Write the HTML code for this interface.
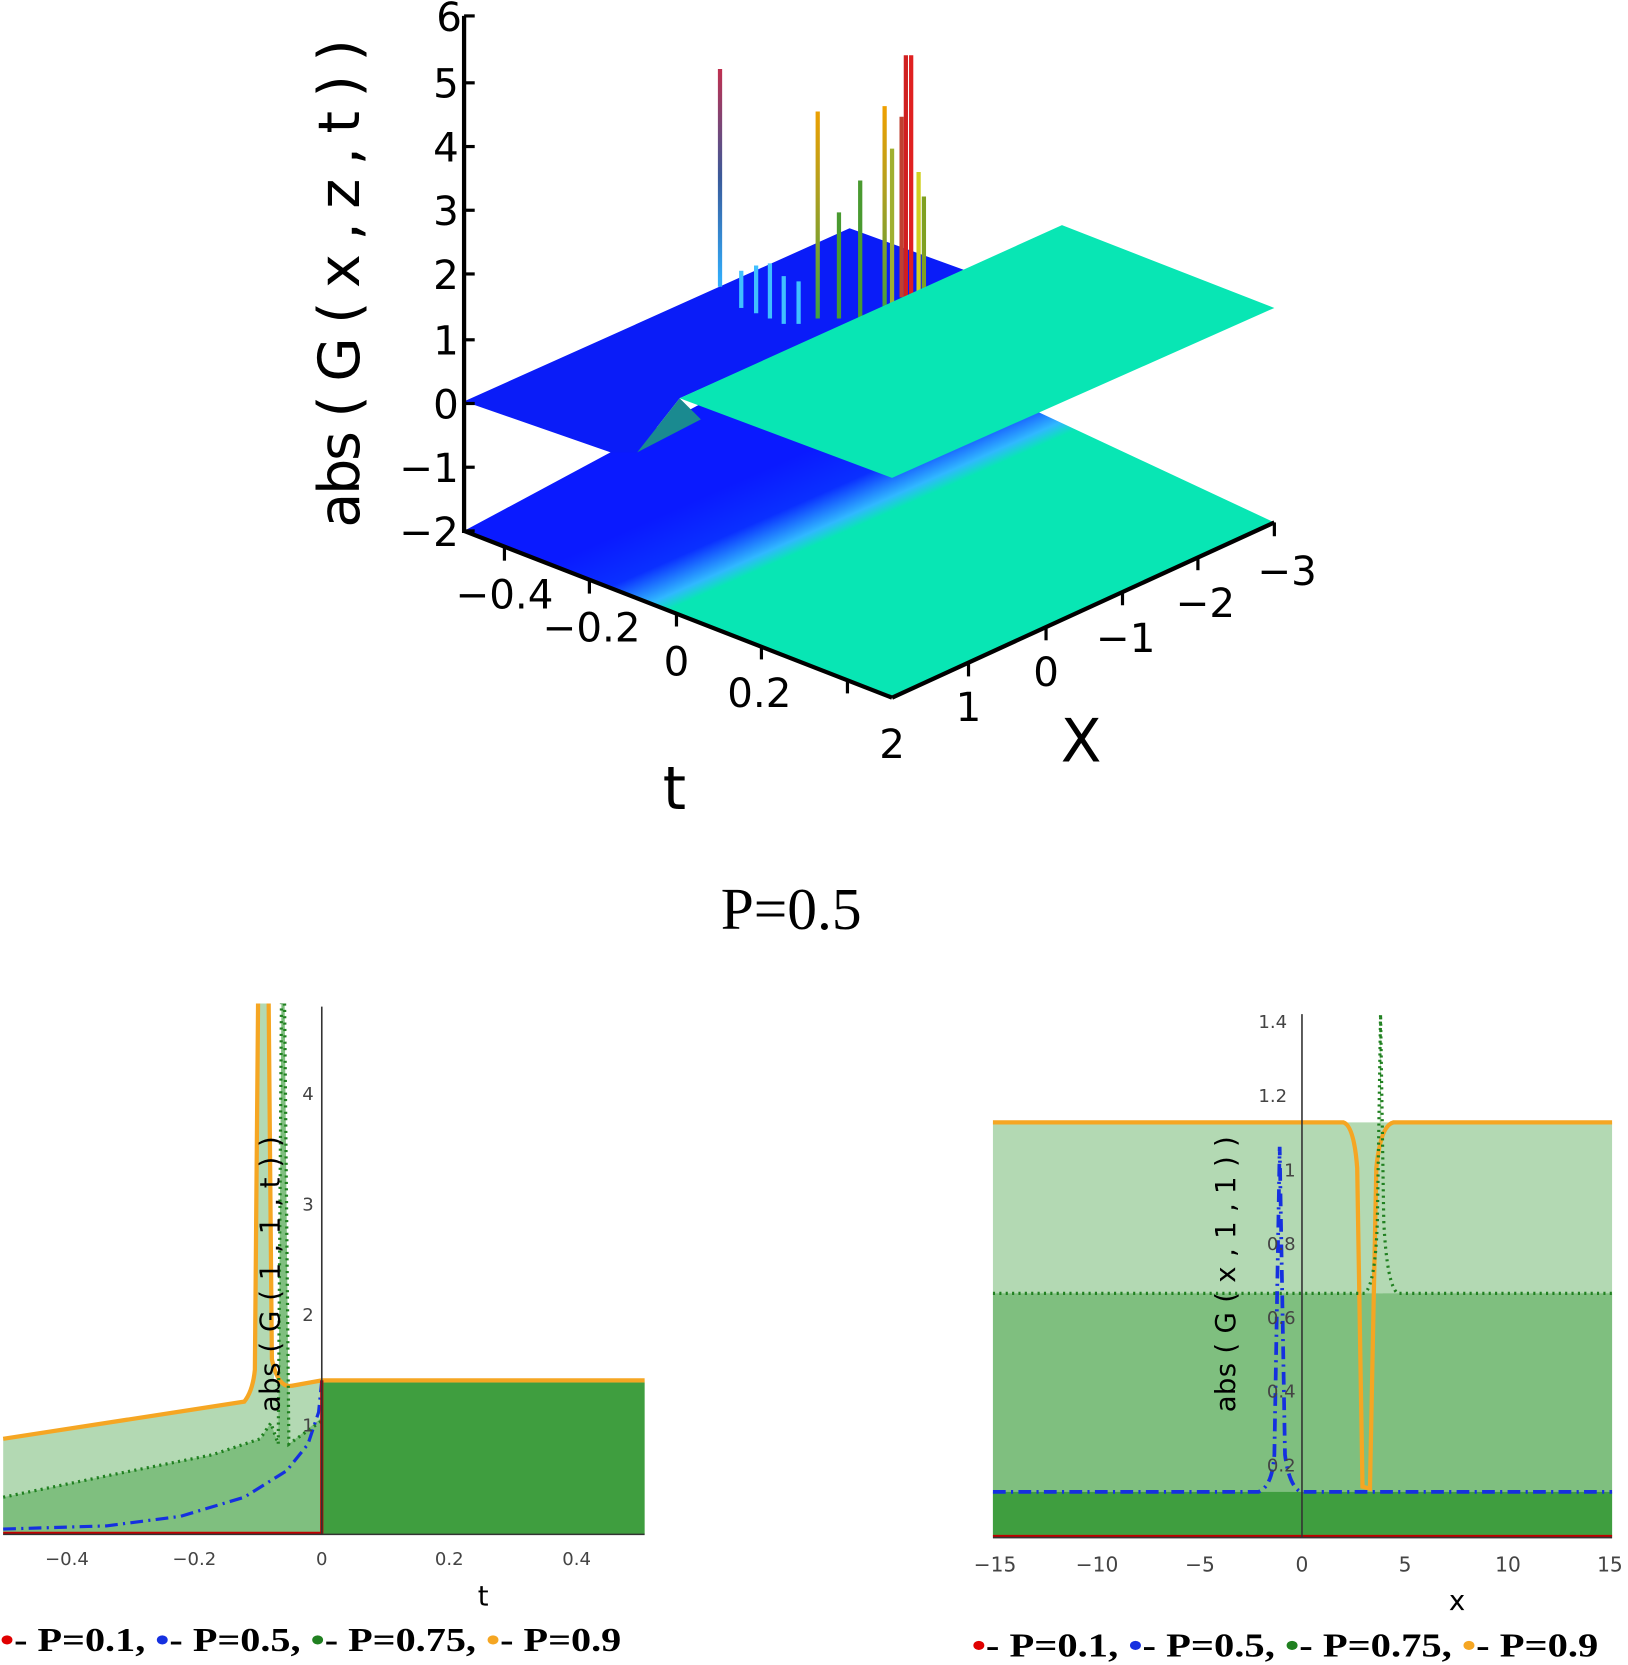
<!DOCTYPE html>
<html><head><meta charset="utf-8"><style>
html,body{margin:0;padding:0;background:#fff;}
svg{display:block;}
</style></head><body>
<svg width="1628" height="1665" viewBox="0 0 1533 1568" preserveAspectRatio="none" xmlns="http://www.w3.org/2000/svg">
<defs>
<linearGradient id="lowg" gradientUnits="userSpaceOnUse" x1="578" y1="505" x2="612" y2="582">
<stop offset="0" stop-color="#0a1aff"/><stop offset="0.5" stop-color="#0a30ff"/><stop offset="0.85" stop-color="#30b8ff"/><stop offset="1" stop-color="#08e6b4"/>
</linearGradient>
<linearGradient id="spk" gradientUnits="userSpaceOnUse" x1="0" y1="270" x2="0" y2="65">
<stop offset="0" stop-color="#30b0ff"/><stop offset="0.5" stop-color="#3a5a9a"/><stop offset="1" stop-color="#c03050"/>
</linearGradient>
<linearGradient id="spk2" gradientUnits="userSpaceOnUse" x1="0" y1="300" x2="0" y2="100">
<stop offset="0" stop-color="#40a040"/><stop offset="0.6" stop-color="#b0a020"/><stop offset="1" stop-color="#f0a000"/>
</linearGradient>
</defs>
<polygon points="437,500 800,305 1200,492 840,655" fill="url(#lowg)"/>
<polygon points="437,378 800,215 910,255 640,375 600,426 575,426" fill="#0a1cf8"/>
<polygon points="600,426 640,375 660,395" fill="#1a8a90"/>
<g stroke-width="4" stroke-linecap="butt">
<line x1="678" y1="270" x2="678" y2="65" stroke="url(#spk)"/>
<line x1="770" y1="300" x2="770" y2="105" stroke="url(#spk2)"/>
<line x1="833" y1="290" x2="833" y2="100" stroke="url(#spk2)"/>
<line x1="853" y1="280" x2="853" y2="52" stroke="#d02020"/>
<line x1="858" y1="280" x2="858" y2="52" stroke="#e02020"/>
<line x1="849" y1="280" x2="849" y2="110" stroke="#c04030"/>
<line x1="865" y1="280" x2="865" y2="162" stroke="#d0d020"/>
<line x1="810" y1="300" x2="810" y2="170" stroke="#4a9a30"/>
<line x1="790" y1="300" x2="790" y2="200" stroke="#4a9a30"/>
<line x1="840" y1="290" x2="840" y2="140" stroke="#a0b030"/>
<line x1="870" y1="285" x2="870" y2="185" stroke="#80a020"/>
<line x1="698" y1="290" x2="698" y2="255" stroke="#40c0ff"/>
<line x1="712" y1="295" x2="712" y2="250" stroke="#40c0ff"/>
<line x1="725" y1="300" x2="725" y2="248" stroke="#40c0ff"/>
<line x1="738" y1="305" x2="738" y2="260" stroke="#40c0ff"/>
<line x1="752" y1="305" x2="752" y2="265" stroke="#40c0ff"/>
</g>
<polygon points="640,375 1000,212 1200,290 840,450" fill="#08e6b4"/>
<g stroke="#000" stroke-width="4" fill="none">
<line x1="437" y1="15" x2="437" y2="502"/>
<line x1="437" y1="500" x2="840" y2="657"/>
<line x1="840" y1="657" x2="1200" y2="492"/>
</g>
<g stroke="#000" stroke-width="3">
<line x1="437" y1="15" x2="447" y2="15"/><line x1="437" y1="78" x2="447" y2="78"/><line x1="437" y1="138" x2="447" y2="138"/><line x1="437" y1="198" x2="447" y2="198"/><line x1="437" y1="258" x2="447" y2="258"/><line x1="437" y1="320" x2="447" y2="320"/><line x1="437" y1="380" x2="447" y2="380"/><line x1="437" y1="440" x2="447" y2="440"/><line x1="437" y1="500" x2="447" y2="500"/>
<line x1="475" y1="515" x2="475" y2="528"/><line x1="555" y1="546" x2="555" y2="559"/><line x1="637" y1="577" x2="637" y2="590"/><line x1="717" y1="608" x2="717" y2="621"/><line x1="798" y1="640" x2="798" y2="653"/>
<line x1="912" y1="624" x2="912" y2="637"/><line x1="985" y1="590" x2="985" y2="603"/><line x1="1057" y1="557" x2="1057" y2="570"/><line x1="1128" y1="524" x2="1128" y2="537"/><line x1="1200" y1="492" x2="1200" y2="505"/>
</g>
<g font-family="DejaVu Sans, sans-serif" font-size="38" fill="#000">
<g text-anchor="end">
<text x="435" y="29">6</text><text x="432" y="92">5</text><text x="432" y="152">4</text><text x="432" y="212">3</text><text x="432" y="272">2</text><text x="432" y="334">1</text><text x="432" y="394">0</text><text x="432" y="454">−1</text><text x="432" y="514">−2</text>
</g>
<text x="475" y="573" text-anchor="middle">−0.4</text>
<text x="557" y="604" text-anchor="middle">−0.2</text>
<text x="637" y="636" text-anchor="middle">0</text>
<text x="715" y="666" text-anchor="middle">0.2</text>
<text x="840" y="714" text-anchor="middle">2</text>
<text x="912" y="679" text-anchor="middle">1</text>
<text x="985" y="646" text-anchor="middle">0</text>
<text x="1060" y="614" text-anchor="middle">−1</text>
<text x="1135" y="581" text-anchor="middle">−2</text>
<text x="1212" y="551" text-anchor="middle">−3</text>
<text x="635" y="762" text-anchor="middle" font-size="56">t</text>
<text x="1018" y="717" text-anchor="middle" font-size="56">X</text>
<text transform="translate(338,497) rotate(-90)" font-size="54" textLength="460" lengthAdjust="spacing">abs ( G ( x , z , t ) )</text>
</g>
<text x="745" y="875" text-anchor="middle" font-family="Liberation Serif, serif" font-size="56">P=0.5</text>

<polygon points="3,1355 230,1320 240,1300 243,945 253,945 258,1300 275,1305 303,1300 607,1300 607,1445 3,1445" fill="#b3d9b3"/>
<polygon points="3,1410 100,1390 200,1370 245,1355 255,1340 262,1360 265,945 268,945 272,1360 303,1335 303,1445 3,1445" fill="#7fbf7f"/>
<rect x="303" y="1302" width="304" height="143" fill="#3f9e3f"/>
<path d="M3,1355 L230,1320 Q238,1310 240,1290 L243,945 M253,945 L256,1280 Q262,1308 275,1305 L303,1300 L607,1300" fill="none" stroke="#f5a623" stroke-width="4"/>
<path d="M3,1410 L100,1390 L200,1370 L245,1355 L255,1340 L262,1360 L265,945 M268,945 L272,1360 L303,1338" fill="none" stroke="#208020" stroke-width="3" stroke-dasharray="2,4"/>
<path d="M3,1440 L100,1437 L170,1428 L230,1410 L270,1385 L290,1360 L300,1330 L303,1300" fill="none" stroke="#1530e0" stroke-width="3" stroke-dasharray="12,5,2,5"/>
<path d="M3,1444 L303,1444 L303,1300" fill="none" stroke="#c00000" stroke-width="3"/>
<line x1="303" y1="948" x2="303" y2="1445" stroke="#333" stroke-width="1.5"/>
<line x1="3" y1="1445" x2="607" y2="1445" stroke="#333" stroke-width="1.5"/>
<g font-family="DejaVu Sans, sans-serif" font-size="17" fill="#444" text-anchor="middle">
<text x="63" y="1474">−0.4</text><text x="183" y="1474">−0.2</text><text x="303" y="1474">0</text><text x="423" y="1474">0.2</text><text x="543" y="1474">0.4</text>
<text x="290" y="1036">4</text><text x="290" y="1140">3</text><text x="290" y="1244">2</text><text x="290" y="1348">1</text>
</g>
<text x="455" y="1512" font-family="DejaVu Sans, sans-serif" font-size="26" text-anchor="middle">t</text>
<text transform="translate(263,1330) rotate(-90)" font-family="DejaVu Sans, sans-serif" font-size="26" textLength="260" lengthAdjust="spacing">abs ( G ( 1 , 1 , t ) )</text>
<text x="0" y="1555" font-family="Liberation Serif, serif" font-size="32" font-weight="bold" textLength="585" lengthAdjust="spacingAndGlyphs"><tspan fill="#e00000">•</tspan>- P=0.1, <tspan fill="#1530e0">•</tspan>- P=0.5, <tspan fill="#208020">•</tspan>- P=0.75, <tspan fill="#f5a623">•</tspan>- P=0.9</text>

<rect x="935" y="1057" width="583" height="390" fill="#b3d9b3"/>
<rect x="935" y="1218" width="583" height="229" fill="#7fbf7f"/>
<rect x="935" y="1405" width="583" height="42" fill="#3f9e3f"/>
<polygon points="1282,1218 1298,1218 1300,955 1302,1218 1320,1218" fill="#b3d9b3"/>
<path d="M935,1057 L1265,1057 Q1275,1060 1278,1100 L1283,1400 L1290,1402 L1296,1100 Q1300,1060 1312,1057 L1518,1057" fill="none" stroke="#f5a623" stroke-width="4"/>
<path d="M935,1218 L1285,1218 Q1295,1210 1297,1150 L1300,955 L1303,1150 Q1306,1210 1316,1218 L1518,1218" fill="none" stroke="#208020" stroke-width="3" stroke-dasharray="2,4"/>
<path d="M935,1405 L1185,1405 Q1198,1400 1200,1370 L1205,1080 L1210,1370 Q1214,1400 1225,1405 L1518,1405" fill="none" stroke="#1530e0" stroke-width="3.5" stroke-dasharray="12,5,2,5"/>
<line x1="935" y1="1447" x2="1518" y2="1447" stroke="#c00000" stroke-width="3"/>
<line x1="1226" y1="955" x2="1226" y2="1448" stroke="#333" stroke-width="1.5"/>
<line x1="935" y1="1448" x2="1518" y2="1448" stroke="#333" stroke-width="1.5"/>
<g font-family="DejaVu Sans, sans-serif" font-size="19" fill="#444" text-anchor="middle">
<text x="937" y="1480">−15</text><text x="1033" y="1480">−10</text><text x="1130" y="1480">−5</text><text x="1226" y="1480">0</text><text x="1323" y="1480">5</text><text x="1420" y="1480">10</text><text x="1516" y="1480">15</text>
</g>
<g font-family="DejaVu Sans, sans-serif" font-size="17" fill="#444" text-anchor="end">
<text x="1212" y="968">1.4</text><text x="1212" y="1038">1.2</text><text x="1220" y="1108">1</text><text x="1220" y="1177">0.8</text><text x="1220" y="1247">0.6</text><text x="1220" y="1316">0.4</text><text x="1220" y="1386">0.2</text>
</g>
<text x="1372" y="1516" font-family="DejaVu Sans, sans-serif" font-size="26" text-anchor="middle">x</text>
<text transform="translate(1163,1330) rotate(-90)" font-family="DejaVu Sans, sans-serif" font-size="26" textLength="260" lengthAdjust="spacing">abs ( G ( x , 1 , 1 ) )</text>
<text x="915" y="1560" font-family="Liberation Serif, serif" font-size="32" font-weight="bold" textLength="590" lengthAdjust="spacingAndGlyphs"><tspan fill="#e00000">•</tspan>- P=0.1, <tspan fill="#1530e0">•</tspan>- P=0.5, <tspan fill="#208020">•</tspan>- P=0.75, <tspan fill="#f5a623">•</tspan>- P=0.9</text>
</svg>
</body></html>
